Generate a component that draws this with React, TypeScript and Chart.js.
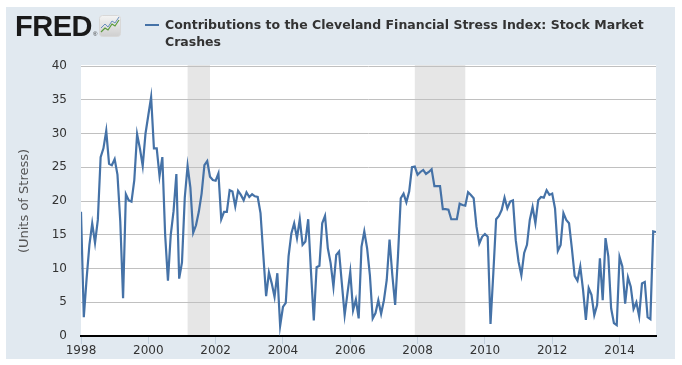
import React, { useEffect, useRef } from "react";
import { Chart, registerables } from "chart.js";

Chart.register(...registerables);

// ---- data (monthly, starting January 1998) ----
const startYear = 1998;
const stress1998 = [18.4, 2.8, 8.5, 13.5, 16.7, 13.8, 17.2, 26.5, 27.8, 30.4, 25.5, 25.3];
const stress1999 = [26.2, 23.9, 17.0, 5.6, 21.0, 20.1, 19.9, 23.1, 29.9, 27.8, 25.2, 30.0];
const stress2000 = [32.7, 35.4, 27.8, 27.8, 23.7, 26.5, 15.0, 8.2, 15.0, 18.5, 24.0, 8.5];
const stress2001 = [10.9, 20.5, 25.2, 22.0, 15.3, 16.4, 18.4, 21.1, 25.3, 25.9, 23.6, 23.1];
const stress2002 = [23.0, 24.1, 17.3, 18.4, 18.4, 21.6, 21.4, 19.2, 21.5, 20.9, 20.1, 21.3];
const stress2003 = [20.6, 21.0, 20.7, 20.6, 18.2, 12.0, 5.9, 9.4, 7.8, 5.8, 9.3, 1.5];
const stress2004 = [4.3, 4.9, 11.8, 15.2, 16.7, 14.5, 17.3, 13.5, 14.0, 17.3, 9.5, 2.3];
const stress2005 = [10.2, 10.4, 16.7, 17.8, 13.0, 10.8, 7.3, 12.0, 12.5, 7.8, 3.1, 6.3];
const stress2006 = [9.5, 3.8, 5.4, 2.6, 13.2, 15.5, 13.0, 9.0, 2.6, 3.4, 5.3, 3.3];
const stress2007 = [5.3, 8.3, 14.3, 9.0, 4.6, 11.8, 20.4, 21.1, 19.8, 21.4, 25.0, 25.1];
const stress2008 = [23.9, 24.3, 24.6, 24.0, 24.3, 24.7, 22.2, 22.2, 22.2, 18.8, 18.8, 18.7];
const stress2009 = [17.3, 17.3, 17.3, 19.6, 19.4, 19.3, 21.3, 20.9, 20.4, 16.2, 13.7, 14.7];
const stress2010 = [15.1, 14.7, 1.8, 9.3, 17.3, 17.8, 18.7, 20.5, 18.9, 19.9, 20.1, 14.2];
const stress2011 = [11.0, 9.0, 12.3, 13.5, 17.2, 19.1, 16.7, 20.1, 20.6, 20.5, 21.6, 20.9];
const stress2012 = [21.1, 18.9, 12.6, 13.5, 18.2, 17.2, 16.7, 13.0, 8.9, 8.2, 10.3, 6.8];
const stress2013 = [2.4, 7.1, 6.1, 3.1, 4.6, 11.5, 5.3, 14.5, 11.8, 4.1, 1.9, 1.6];
const stress2014 = [11.7, 10.3, 4.8, 8.7, 7.3, 4.0, 5.0, 2.9, 7.8, 8.0, 2.8, 2.5];
const stress2015 = [15.5, 15.4];

const stressByYear = [
  stress1998, stress1999, stress2000, stress2001, stress2002, stress2003,
  stress2004, stress2005, stress2006, stress2007, stress2008, stress2009,
  stress2010, stress2011, stress2012, stress2013, stress2014, stress2015,
];
const stressValues: number[] = stressByYear.flat();

// recessions as [year, month(1-12)] start/end
const recessionStarts = [[2001, 3], [2007, 12]];
const recessionEnds = [[2001, 11], [2009, 6]];

const yTickValues = [0, 5, 10, 15, 20, 25, 30, 35, 40];
const xTickYears = [1998, 2000, 2002, 2004, 2006, 2008, 2010, 2012, 2014];

const seriesTitle = "Contributions to the Cleveland Financial Stress Index: Stock Market";
const seriesTitle2 = "Crashes";
const yAxisTitle = "(Units of Stress)";

const ym = (y: number, m: number) => y + (m - 1) / 12;

const bgPlugin = {
  id: "fredBg",
  beforeDraw(chart: any) {
    const { ctx, chartArea, scales } = chart;
    const { left, right, top, bottom } = chartArea;
    ctx.save();
    ctx.fillStyle = "#ffffff";
    ctx.fillRect(left, top - 1, right - left, bottom - top + 1);
    ctx.fillStyle = "#e6e6e6";
    recessionStarts.forEach((s, i) => {
      const e = recessionEnds[i];
      const x0 = scales.x.getPixelForValue(ym(s[0], s[1]));
      const x1 = scales.x.getPixelForValue(ym(e[0], e[1]));
      ctx.fillRect(x0, top - 1, x1 - x0, bottom - top + 1);
    });
    ctx.restore();
  },
};

const tickFont = { family: "'DejaVu Sans', sans-serif", size: 12 };

export default function App() {
  const ref = useRef<HTMLCanvasElement | null>(null);

  useEffect(() => {
    if (!ref.current) return;
    const points = stressValues.map((v, i) => ({ x: startYear + i / 12, y: v }));
    const chart = new Chart(ref.current, {
      type: "line",
      data: {
        datasets: [
          {
            data: points,
            borderColor: "#4572a7",
            borderWidth: 2.2,
            pointRadius: 0,
            tension: 0,
            fill: false,
          },
        ],
      },
      options: {
        animation: false,
        responsive: false,
        devicePixelRatio: 1,
        layout: { padding: { top: 59, right: 19, bottom: 0, left: 0 } },
        plugins: { legend: { display: false }, tooltip: { enabled: false } },
        scales: {
          x: {
            type: "linear",
            min: startYear,
            max: startYear + (stressValues.length - 1) / 12,
            afterBuildTicks: (axis: any) => {
              axis.ticks = xTickYears.map((v) => ({ value: v }));
            },
            afterFit: (axis: any) => {
              axis.height = 23;
            },
            ticks: {
              callback: (v: any) => String(v),
              font: tickFont,
              color: "#333333",
              padding: 0,
              maxRotation: 0,
              autoSkip: false,
            },
            grid: {
              drawOnChartArea: false,
              drawTicks: true,
              tickLength: 8,
              color: "#c2d0dd",
            },
            border: { display: true, color: "#000000", width: 2 },
          },
          y: {
            min: 0,
            max: 40,
            afterBuildTicks: (axis: any) => {
              axis.ticks = yTickValues.map((v) => ({ value: v }));
            },
            afterFit: (axis: any) => {
              axis.width = 75;
            },
            ticks: {
              font: tickFont,
              color: "#333333",
              padding: 14,
            },
            grid: {
              drawTicks: false,
              color: (c: any) => (c.tick && c.tick.value === 0 ? "rgba(0,0,0,0)" : "#c0c0c0"),
              lineWidth: 1,
            },
            border: { display: false },
            title: {
              display: true,
              text: yAxisTitle,
              font: { family: "'DejaVu Sans', sans-serif", size: 13 },
              color: "#555555",
              padding: { top: 11, bottom: 0 },
            },
          },
        },
      },
      plugins: [bgPlugin],
    } as any);
    return () => chart.destroy();
  }, []);

  return (
    <div style={{ position: "absolute", left: 0, top: 0, width: 682, height: 365, background: "#ffffff", overflow: "hidden" }}>
      <div style={{ position: "absolute", left: 6, top: 7, width: 669, height: 352, background: "#e1e9f0" }}>
        <canvas ref={ref} width={669} height={352} style={{ position: "absolute", left: 0, top: 0, width: 669, height: 352 }} />
      </div>
      <div
        style={{
          position: "absolute",
          left: 15,
          top: 12,
          fontFamily: "'Liberation Sans', Arial, sans-serif",
          fontWeight: 700,
          fontSize: 29,
          lineHeight: "28px",
          color: "#1a1a1a",
          letterSpacing: -0.5,
        }}
      >
        FRED
      </div>
      <div style={{ position: "absolute", left: 93, top: 31, fontFamily: "'Liberation Sans', sans-serif", fontSize: 6, color: "#333" }}>®</div>
      <svg style={{ position: "absolute", left: 99, top: 15 }} width={22} height={22} viewBox="0 0 22 22">
        <defs>
          <linearGradient id="ig" x1="0" y1="0" x2="0" y2="1">
            <stop offset="0" stopColor="#f4f4f4" />
            <stop offset="1" stopColor="#cfcfcf" />
          </linearGradient>
        </defs>
        <rect x="0.5" y="0.5" width="21" height="21" rx="3" fill="url(#ig)" stroke="#d8d8d8" />
        <polyline points="2,17 6,13 9,15 13,9 16,11 20,5" fill="none" stroke="#5a9a3a" strokeWidth="1.2" />
        <polyline points="2,13 6,9 9,12 13,6 16,8 20,2" fill="none" stroke="#6a8fbf" strokeWidth="1" />
      </svg>
      <div style={{ position: "absolute", left: 145, top: 24, width: 14, height: 2, background: "#4572a7" }} />
      <div
        style={{
          position: "absolute",
          left: 165,
          top: 16,
          fontFamily: "'DejaVu Sans', sans-serif",
          fontWeight: 700,
          fontSize: 12.5,
          lineHeight: "17px",
          color: "#333333",
          whiteSpace: "nowrap",
        }}
      >
        {seriesTitle}
        <br />
        {seriesTitle2}
      </div>
    </div>
  );
}
